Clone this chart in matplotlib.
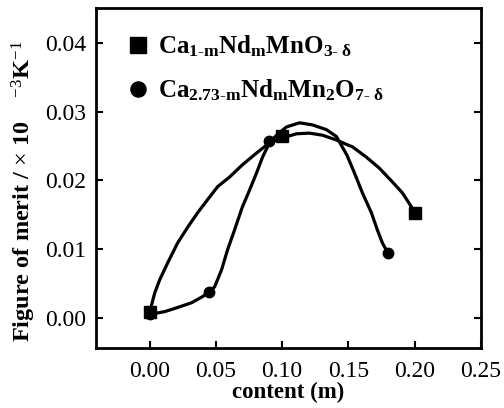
import matplotlib
matplotlib.use("Agg")
import matplotlib.pyplot as plt

plt.rcParams['font.family'] = ['Liberation Serif', 'DejaVu Serif']
plt.rcParams['mathtext.fontset'] = 'custom'
plt.rcParams['mathtext.rm'] = 'Liberation Serif'
plt.rcParams['mathtext.it'] = 'Liberation Serif:italic'
plt.rcParams['mathtext.bf'] = 'Liberation Serif:bold'

# Data points
sq_x = [0.0, 0.1, 0.2]
sq_y = [0.0008, 0.0265, 0.0152]
ci_x = [0.0, 0.045, 0.09, 0.18]
ci_y = [0.0005, 0.0037, 0.0257, 0.0094]

# Smooth curves
sq_curve_x = [0.0, 0.0038, 0.0075, 0.0136, 0.0211, 0.0287, 0.0362, 0.0437, 0.0513,
              0.0603, 0.0701, 0.0807, 0.0905, 0.1003, 0.1108, 0.1206, 0.1304, 0.141,
              0.1493, 0.1531, 0.1636, 0.1734, 0.1832, 0.1908, 0.1975, 0.2]
sq_curve_y = [0.0008, 0.0036, 0.0055, 0.0080, 0.0109, 0.0132, 0.0153, 0.0172, 0.0191,
              0.0205, 0.0223, 0.0240, 0.0255, 0.0262, 0.0268, 0.0269, 0.0266, 0.0259,
              0.0252, 0.0249, 0.0234, 0.0218, 0.0198, 0.0182, 0.0162, 0.0151]
ci_curve_x = [0.0, 0.0113, 0.0211, 0.0317, 0.040, 0.0437, 0.049, 0.0543, 0.0588,
              0.0641, 0.0697, 0.0754, 0.0807, 0.0852, 0.0905, 0.0958, 0.1033, 0.1131,
              0.1229, 0.1335, 0.141, 0.1489, 0.1546, 0.1606, 0.1674, 0.1719, 0.1757, 0.18]
ci_curve_y = [0.0005, 0.0009, 0.0015, 0.0022, 0.0031, 0.0036, 0.0045, 0.0070, 0.0099,
              0.0128, 0.0160, 0.0186, 0.0211, 0.0234, 0.0255, 0.0266, 0.0278, 0.0284,
              0.0281, 0.0274, 0.0264, 0.0237, 0.0211, 0.0182, 0.0153, 0.0128, 0.0109, 0.0094]

xticks = [0.0, 0.05, 0.10, 0.15, 0.20, 0.25]
xticklabels = ['0.00', '0.05', '0.10', '0.15', '0.20', '0.25']
yticks = [0.0, 0.01, 0.02, 0.03, 0.04]
yticklabels = ['0.00', '0.01', '0.02', '0.03', '0.04']

fig = plt.figure(figsize=(5.04, 4.08), dpi=100)
ax = fig.add_axes([0.1905, 0.147, 0.7635, 0.833])

ax.plot(sq_curve_x, sq_curve_y, color='black', lw=2.3, solid_capstyle='round', solid_joinstyle='round')
ax.plot(ci_curve_x, ci_curve_y, color='black', lw=2.3, solid_capstyle='round', solid_joinstyle='round')
ax.plot(sq_x, sq_y, 's', color='black', ms=8, label=r'$\mathbf{Ca_{1\text{-}m}Nd_{m}MnO_{3\text{-}\ \delta}}$')
ax.plot(ci_x, ci_y, 'o', color='black', ms=7.5, label=r'$\mathbf{Ca_{2.73\text{-}m}Nd_{m}Mn_{2}O_{7\text{-}\ \delta}}$')

ax.set_xlim(-0.0405, 0.25)
ax.set_ylim(-0.0044, 0.0451)
ax.set_xticks(xticks)
ax.set_xticklabels(xticklabels)
ax.set_yticks(yticks)
ax.set_yticklabels(yticklabels)
ax.tick_params(direction='in', length=5, width=1.5, labelsize=17, right=True, top=False)
ax.tick_params(axis='x', pad=9)
ax.tick_params(axis='y', pad=7)
for s in ax.spines.values():
    s.set_linewidth(2)

ax.set_xlabel('content (m)', fontsize=16.5, fontweight='bold', labelpad=0)
ax.set_ylabel(r'Figure of merit / $\times$ 10    $^{-3}$$\mathbf{K}^{-1}$', fontsize=17.5,
              fontweight='bold')
ax.yaxis.set_label_coords(-0.152, 0.46)

leg = ax.legend(loc='upper left', bbox_to_anchor=(0.05, 0.955), frameon=False, fontsize=18,
                handletextpad=0.3, markerscale=1.45, handlelength=1.0, labelspacing=0.75,
                borderaxespad=0)

fig.savefig('out.png', dpi=100)
